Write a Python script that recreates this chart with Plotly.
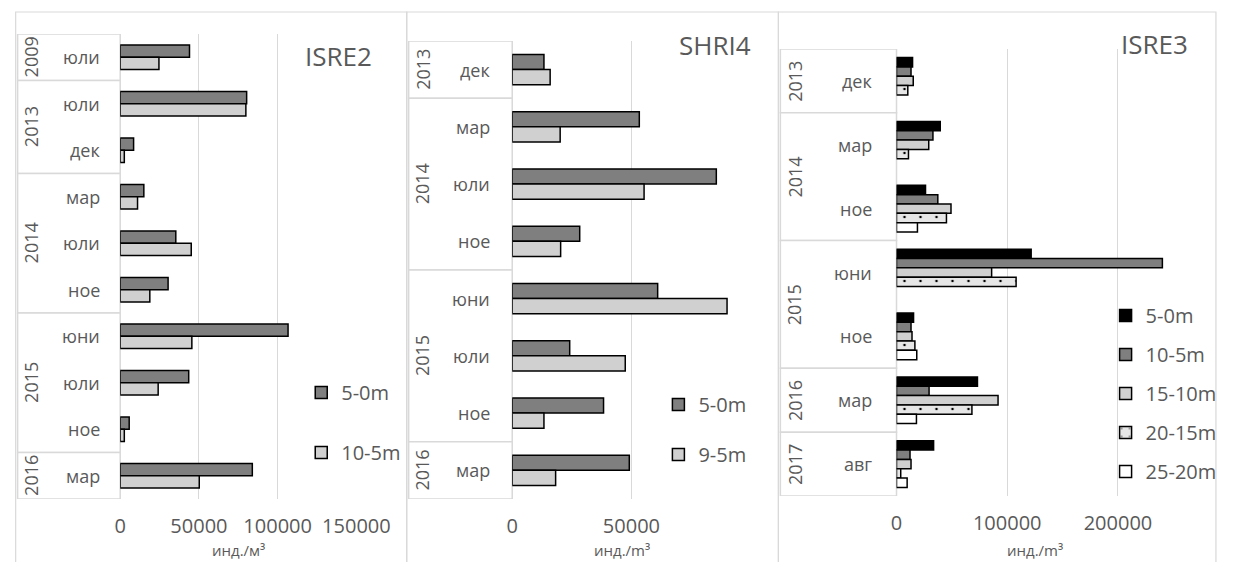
import plotly.graph_objects as go

# ---------------- data ----------------
# ISRE2
years1 = ["2009", "2013", "2013", "2014", "2014", "2014", "2015", "2015", "2015", "2016"]
months1 = ["юли", "юли", "дек", "мар", "юли", "ное", "юни", "юли", "ное", "мар"]
isre2_5_0 = [44000, 80300, 8500, 15000, 35300, 30400, 106600, 43500, 5700, 83900]
isre2_10_5 = [24600, 79800, 2600, 11000, 45100, 18800, 45500, 24100, 2600, 50200]

# SHRI4
years2 = ["2013", "2014", "2014", "2014", "2015", "2015", "2015", "2016"]
months2 = ["дек", "мар", "юли", "ное", "юни", "юли", "ное", "мар"]
shri4_5_0 = [13300, 53300, 85600, 28300, 61000, 24100, 38300, 49100]
shri4_9_5 = [15900, 20100, 55300, 20300, 90100, 47400, 13300, 18200]

# ISRE3
years3 = ["2013", "2014", "2014", "2015", "2015", "2016", "2017"]
months3 = ["дек", "мар", "ное", "юни", "ное", "мар", "авг"]
isre3_5_0 = [14500, 39500, 26200, 121600, 15400, 73100, 33500]
isre3_10_5 = [13100, 32900, 37300, 240100, 13100, 29400, 12200]
isre3_15_10 = [15100, 29100, 49200, 85900, 14000, 91700, 13100]
isre3_20_15 = [10200, 10800, 45100, 108000, 16600, 68100, 3800]
isre3_25_20 = [None, None, 18900, None, 18300, 18000, 9600]

titles = ["ISRE2", "SHRI4", "ISRE3"]
unit_labels = ["инд./м³", "инд./m³", "инд./m³"]
tick_vals = [[0, 50000, 100000, 150000], [0, 50000], [0, 100000, 200000]]

# ---------------- styling ----------------
W, H = 1248, 562
FONT = "Open Sans"
TXT = "#595959"
GRID = "#d9d9d9"
DARK = "#7f7f7f"
LIGHT = "#d0d0d0"
DOTBG = "#e6e6e6"


def px(x):
    return x / W


def py(y):
    return 1 - y / H


def solid(c):
    return dict(color=c, line=dict(color="black", width=1.5))


def dotted():
    return dict(color=DOTBG, line=dict(color="black", width=1.5),
                pattern=dict(shape=".", fgcolor="black", bgcolor=DOTBG,
                             size=16, solidity=0.02, fillmode="replace"))


panels = [
    dict(years=years1, months=months1,
         series=[("5-0m", isre2_5_0, solid(DARK)), ("10-5m", isre2_10_5, solid(LIGHT))],
         box=(12, 118), plot=(118, 362, 34, 499), xmax=150000, group=0.53,
         title_xy=(307, 56), year_x=26, month_x=99,
         legend=dict(x=305, y=373, gap=31), border=(10, 414)),
    dict(years=years2, months=months2,
         series=[("5-0m", shri4_5_0, solid(DARK)), ("9-5m", shri4_9_5, solid(LIGHT))],
         box=(416, 523), plot=(523, 749.6, 41, 499), xmax=92000, group=0.525,
         title_xy=(693, 45), year_x=430, month_x=502,
         legend=dict(x=674, y=385, gap=21), border=(414, 798)),
    dict(years=years3, months=months3,
         series=[("5-0m", isre3_5_0, solid("black")), ("10-5m", isre3_10_5, solid(DARK)),
                 ("15-10m", isre3_15_10, solid(LIGHT)), ("20-15m", isre3_20_15, dotted()),
                 ("25-20m", isre3_25_20, solid("white"))],
         box=(800, 920), plot=(920, 1206, 49, 496), xmax=250000, group=0.73,
         title_xy=(1150, 44), year_x=815, month_x=897,
         legend=dict(x=1136, y=296, gap=10), border=(798, 1250)),
]

fig = go.Figure()
shapes, annotations = [], []
layout = {}

for k, p in enumerate(panels):
    sfx = "" if k == 0 else str(k + 1)
    xa, ya = "x" + sfx, "y" + sfx
    leg = "legend" + sfx
    cats = [f"{y} {m}" for y, m in zip(p["years"], p["months"])]
    n = len(cats)
    ns = len(p["series"])
    bw = p["group"] / ns
    for j, (name, vals, marker) in enumerate(p["series"]):
        fig.add_trace(go.Bar(
            x=vals, y=cats, orientation="h", name=name,
            xaxis=xa, yaxis=ya, width=bw, offset=-p["group"] / 2 + j * bw,
            marker=marker, legend=leg, legendgroup=f"p{k}s{j}",
            hoverinfo="x+y+name",
        ))
    x0, x1, y0, y1 = p["plot"]
    layout["xaxis" + sfx] = dict(
        domain=[px(x0), px(x1)], anchor=ya, range=[0, p["xmax"]],
        tickvals=tick_vals[k], ticktext=[str(v) for v in tick_vals[k]],
        showgrid=True, gridcolor=GRID, gridwidth=1, zeroline=False,
        showline=False, ticks="", ticklabelstandoff=13,
        tickfont=dict(family=FONT, size=20, color=TXT), fixedrange=True,
    )
    layout["yaxis" + sfx] = dict(
        domain=[py(y1), py(y0)], anchor=xa, type="category",
        categoryorder="array", categoryarray=cats, range=[n - 0.5, -0.5],
        showticklabels=False, showgrid=False, zeroline=False, showline=False,
        ticks="", fixedrange=True,
    )
    lg = p["legend"]
    layout[leg] = dict(
        x=px(lg["x"]), y=py(lg["y"]), xanchor="left", yanchor="top",
        bgcolor="rgba(0,0,0,0)", tracegroupgap=lg["gap"],
        font=dict(family=FONT, size=20, color=TXT), traceorder="grouped",
    )
    # outer chart border
    bx0, bx1 = p["border"]
    shapes.append(dict(type="rect", xref="paper", yref="paper",
                       x0=px(bx0), x1=px(bx1), y0=py(580), y1=py(12),
                       line=dict(color=GRID, width=1.2), fillcolor="rgba(0,0,0,0)",
                       layer="below"))
    # category boxes per year group
    groups = []
    for i, y in enumerate(p["years"]):
        if groups and groups[-1][0] == y:
            groups[-1][2] = i
        else:
            groups.append([y, i, i])
    cb0, cb1 = p["box"]
    for y, i0, i1 in groups:
        shapes.append(dict(type="rect", xref="paper", yref=ya,
                           x0=px(cb0), x1=px(cb1), y0=i0 - 0.5, y1=i1 + 0.5,
                           line=dict(color=GRID, width=1.5), fillcolor="white",
                           layer="below"))
        annotations.append(dict(text=y, xref="paper", yref=ya, x=px(p["year_x"]),
                                y=(i0 + i1) / 2, textangle=-90, showarrow=False,
                                xanchor="center", yanchor="middle",
                                font=dict(family=FONT, size=18, color=TXT)))
    for i, m in enumerate(p["months"]):
        annotations.append(dict(text=m, xref="paper", yref=ya, x=px(p["month_x"]),
                                y=i, showarrow=False, xanchor="right", yanchor="middle",
                                font=dict(family=FONT, size=18, color=TXT)))
    tx, ty = p["title_xy"]
    annotations.append(dict(text=titles[k], xref="paper", yref="paper", x=px(tx), y=py(ty),
                            xanchor="left", yanchor="middle", showarrow=False,
                            font=dict(family=FONT, size=26, color=TXT)))
    annotations.append(dict(text=unit_labels[k], xref="paper", yref="paper",
                            x=px((x0 + x1) / 2), y=py(550), xanchor="center",
                            yanchor="middle", showarrow=False,
                            font=dict(family=FONT, size=15, color=TXT)))

fig.update_layout(
    width=W, height=H, margin=dict(l=0, r=0, t=0, b=0),
    paper_bgcolor="white", plot_bgcolor="rgba(0,0,0,0)",
    barmode="overlay", showlegend=True,
    shapes=shapes, annotations=annotations,
    font=dict(family=FONT, color=TXT),
    **layout,
)

fig.write_html("out.html")
